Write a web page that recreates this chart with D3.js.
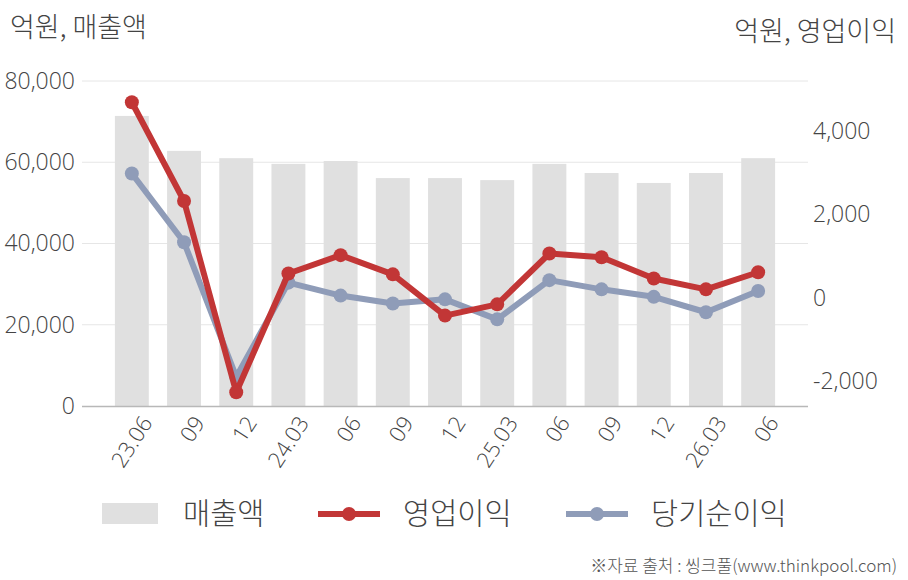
<!DOCTYPE html>
<html>
<head>
<meta charset="utf-8">
<script src="https://cdn.jsdelivr.net/npm/d3@7"></script>
<style>
  body { margin: 0; background: #fff; }
  text { font-family: "Open Sans", "Noto Sans CJK KR", sans-serif; fill: #444; }
  .kr { font-family: "Noto Sans CJK KR", sans-serif; font-weight: 300; }
</style>
</head>
<body>
<div id="chart"></div>
<script>
// Data
var periods = ["23.06", "09", "12", "24.03", "06", "09", "12", "25.03", "06", "09", "12", "26.03", "06"];
var sales = [71400, 62800, 61000, 59600, 60300, 56100, 56100, 55600, 59600, 57350, 54900, 57350, 61000];
var opProfit = [4690, 2320, -2270, 580, 1020, 560, -430, -160, 1060, 970, 460, 200, 610];
var netProfit = [2980, 1330, -1900, 360, 50, -140, -40, -520, 420, 200, 20, -350, 160];
var leftTicks = [0, 20000, 40000, 60000, 80000];
var rightTicks = [-2000, 0, 2000, 4000];

var W = 908, H = 580;
var plot = {left: 82, right: 808, top: 81, bottom: 406};

var svg = d3.select("#chart").append("svg")
    .attr("width", W)
    .attr("height", H);

// Scales
var x = d3.scaleBand()
    .domain(d3.range(periods.length))
    .range([plot.left, plot.right])
    .paddingInner(0.35)
    .paddingOuter(0.63);

var yL = d3.scaleLinear().domain([0, 80000]).range([plot.bottom, plot.top]);
var yR = d3.scaleLinear().domain([-2600, 5200]).range([plot.bottom, plot.top]);

var fmt = function(d) { return d3.format(",")(d).replace("−", "-"); };

// Gridlines
svg.append("g")
  .selectAll("line")
  .data(leftTicks.slice(1))
  .enter().append("line")
    .attr("x1", plot.left).attr("x2", plot.right)
    .attr("y1", function(d) { return yL(d); })
    .attr("y2", function(d) { return yL(d); })
    .attr("stroke", "#e6e6e6")
    .attr("stroke-width", 1);

// Bars
svg.append("g")
  .selectAll("rect")
  .data(sales)
  .enter().append("rect")
    .attr("x", function(d, i) { return x(i); })
    .attr("width", x.bandwidth())
    .attr("y", function(d) { return yL(d); })
    .attr("height", function(d) { return plot.bottom - yL(d); })
    .attr("fill", "#e0e0e0");

// Bottom axis line
svg.append("line")
    .attr("x1", plot.left).attr("x2", plot.right)
    .attr("y1", plot.bottom + 0.5).attr("y2", plot.bottom + 0.5)
    .attr("stroke", "#b8b8b8")
    .attr("stroke-width", 1.5);

// Left axis
var axL = svg.append("g")
    .attr("transform", "translate(" + plot.left + ",0)")
    .call(d3.axisLeft(yL).tickValues(leftTicks).tickFormat(fmt).tickSize(0).tickPadding(7));
axL.select(".domain").remove();
axL.selectAll("text").style("font-size", "23px").style("font-weight", 350).attr("fill", "#444");

// Right axis
var axR = svg.append("g")
    .attr("transform", "translate(" + plot.right + ",0)")
    .call(d3.axisRight(yR).tickValues(rightTicks).tickFormat(fmt).tickSize(0).tickPadding(5));
axR.select(".domain").remove();
axR.selectAll("text").style("font-size", "23px").style("font-weight", 350).attr("fill", "#444");

// X axis labels
var axB = svg.append("g")
    .attr("transform", "translate(0," + plot.bottom + ")")
    .call(d3.axisBottom(x).tickFormat(function(i) { return periods[i]; }).tickSize(0));
axB.select(".domain").remove();
axB.selectAll("text")
    .style("font-size", "22px")
    .style("font-weight", 350)
    .attr("fill", "#444")
    .attr("text-anchor", "end")
    .attr("dx", "0.2em")
    .attr("dy", "0.9em")
    .attr("transform", "translate(0,8) rotate(-57)");

// Lines
var cx = function(i) { return x(i) + x.bandwidth() / 2; };

function drawSeries(values, color) {
  var line = d3.line()
      .x(function(d, i) { return cx(i); })
      .y(function(d) { return yR(d); });
  var g = svg.append("g");
  g.append("path")
      .datum(values)
      .attr("d", line)
      .attr("fill", "none")
      .attr("stroke", color)
      .attr("stroke-width", 6)
      .attr("stroke-linejoin", "round");
  g.selectAll("circle")
      .data(values)
    .enter().append("circle")
      .attr("cx", function(d, i) { return cx(i); })
      .attr("cy", function(d) { return yR(d); })
      .attr("r", 7)
      .attr("fill", color);
}
drawSeries(netProfit, "#8f9cb8");
drawSeries(opProfit, "#c23636");

// Axis titles
svg.append("text")
    .attr("class", "kr")
    .attr("x", 10).attr("y", 37)
    .style("font-size", "27px")
    .text("억원, 매출액");
svg.append("text")
    .attr("class", "kr")
    .attr("x", 896).attr("y", 41)
    .attr("text-anchor", "end")
    .style("font-size", "27px")
    .text("억원, 영업이익");

// Legend
var lg = svg.append("g");
lg.append("rect")
    .attr("x", 102).attr("y", 503).attr("width", 56).attr("height", 21)
    .attr("fill", "#e0e0e0");
lg.append("text").attr("class", "kr").attr("x", 183).attr("y", 524).style("font-size", "29.5px").text("매출액");

lg.append("line").attr("x1", 318).attr("x2", 380).attr("y1", 514).attr("y2", 514)
    .attr("stroke", "#c23636").attr("stroke-width", 6);
lg.append("circle").attr("cx", 349).attr("cy", 514).attr("r", 7).attr("fill", "#c23636");
lg.append("text").attr("class", "kr").attr("x", 403).attr("y", 524).style("font-size", "29.5px").text("영업이익");

lg.append("line").attr("x1", 566).attr("x2", 628).attr("y1", 514).attr("y2", 514)
    .attr("stroke", "#8f9cb8").attr("stroke-width", 6);
lg.append("circle").attr("cx", 597).attr("cy", 514).attr("r", 7).attr("fill", "#8f9cb8");
lg.append("text").attr("class", "kr").attr("x", 651).attr("y", 524).style("font-size", "29.5px").text("당기순이익");

// Source
svg.append("text")
    .attr("class", "kr")
    .attr("x", 897).attr("y", 572)
    .attr("text-anchor", "end")
    .style("font-size", "17px")
    .style("fill", "#555")
    .text("※자료 출처 : 씽크풀(www.thinkpool.com)");
</script>
</body>
</html>
